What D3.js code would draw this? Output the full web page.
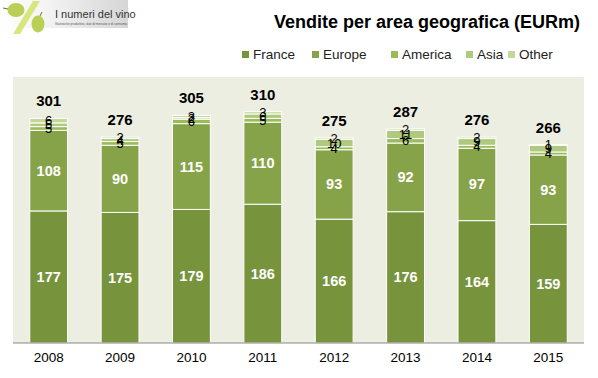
<!DOCTYPE html>
<html><head><meta charset="utf-8">
<script src="https://cdn.jsdelivr.net/npm/d3@7"></script>
<style>body{margin:0;background:#fff}svg{display:block}</style>
</head><body>
<script>
const years = ["2008","2009","2010","2011","2012","2013","2014","2015"];
const seriesNames = ["France","Europe","America","Asia","Other"];
const france  = [177,175,179,186,166,176,164,159];
const europe  = [108, 90,115,110, 93, 92, 97, 93];
const america = [  5,  5,  6,  5,  4,  6,  4,  4];
const asia    = [  5,  4,  2,  6, 10, 11,  9,  9];
const other   = [  6,  2,  3,  3,  2,  2,  2,  1];
const totals  = [301,276,305,310,275,287,276,266];
const colors  = ["#77933C","#87A34A","#9BBB59","#AFC97E","#C4D79B"];

const W=598,H=378;
const svg=d3.select("body").append("svg").attr("width",W).attr("height",H);
const font="'Liberation Sans', Arial, sans-serif";

// logo
const defs=svg.append("defs");
const lg=defs.append("linearGradient").attr("id","lg").attr("x1",0).attr("x2",1);
lg.append("stop").attr("offset",0).attr("stop-color","#ffffff");
lg.append("stop").attr("offset",0.35).attr("stop-color","#f4f4f4");
lg.append("stop").attr("offset",1).attr("stop-color","#d6d6d6");
svg.append("rect").attr("x",0).attr("y",0).attr("width",128).attr("height",28).attr("fill","url(#lg)");
svg.append("path").attr("d","M13,34 L20,34 L40,1 L33,1 Z").attr("fill","#d8e67e");
svg.append("ellipse").attr("cx",16).attr("cy",10).attr("rx",8.5).attr("ry",7).attr("fill","#b9cf55");
svg.append("ellipse").attr("cx",38).attr("cy",24).attr("rx",6.5).attr("ry",8.5).attr("fill","#b9cf55");
svg.append("line").attr("x1",3).attr("y1",8).attr("x2",8).attr("y2",9).attr("stroke","#7a6a3a").attr("stroke-width",1);
svg.append("line").attr("x1",42).attr("y1",12).attr("x2",40).attr("y2",16).attr("stroke","#7a6a3a").attr("stroke-width",1);
svg.append("text").attr("x",55).attr("y",18).attr("font-family",font).attr("font-size",11).attr("fill","#333").text("I numeri del vino");
svg.append("text").attr("x",55).attr("y",25).attr("font-family",font).attr("font-size",3.2).attr("fill","#555").text("Statistiche produttive, dati di mercato e di consumo.");

// title
svg.append("text").attr("x",427).attr("y",28).attr("text-anchor","middle")
  .attr("font-family",font).attr("font-weight","bold").attr("font-size",18).attr("fill","#000")
  .text("Vendite per area geografica (EURm)");

// legend
const legX=[242,312,391,466,508];
seriesNames.forEach((n,i)=>{
  const g=svg.append("g").attr("transform",`translate(${legX[i]},57)`);
  g.append("rect").attr("x",0).attr("y",-6).attr("width",7).attr("height",7).attr("fill",colors[i]);
  g.append("text").attr("x",11).attr("y",1.5).attr("font-family",font).attr("font-size",13.5).attr("fill","#222").text(n);
});

// plot
const pLeft=13,pRight=584,pBase=343,pTop=77;
svg.append("rect").attr("x",pLeft).attr("y",pTop).attr("width",pRight-pLeft).attr("height",pBase-pTop).attr("fill","#EBEEE0");
const x=d3.scaleBand().domain(years).range([pLeft,pRight]).paddingInner(0.47).paddingOuter(0.235);
const y=d3.scaleLinear().domain([0,356.5]).range([pBase,pTop]);

const rows=years.map((yr,i)=>({year:yr,France:france[i],Europe:europe[i],America:america[i],Asia:asia[i],Other:other[i],total:totals[i]}));
const stack=d3.stack().keys(seriesNames)(rows);

stack.forEach((layer,li)=>{
  svg.append("g").selectAll("rect").data(layer).join("rect")
    .attr("x",d=>x(d.data.year)).attr("width",x.bandwidth())
    .attr("y",d=>y(d[1])).attr("height",d=>y(d[0])-y(d[1]))
    .attr("fill",colors[li]).attr("stroke","#fff").attr("stroke-width",1);
});

// labels
stack.forEach((layer,li)=>{
  const big=li<2;
  svg.append("g").selectAll("text").data(layer).join("text")
    .attr("x",d=>x(d.data.year)+x.bandwidth()/2)
    .attr("y",d=>(y(d[0])+y(d[1]))/2+(big?5:4.5))
    .attr("text-anchor","middle").attr("font-family",font)
    .attr("font-size",big?14.5:13).attr("font-weight",big?"bold":"normal")
    .attr("fill",big?"#fff":"#000")
    .text(d=>d[1]-d[0]);
});
svg.append("g").selectAll("text").data(rows).join("text")
  .attr("x",d=>x(d.year)+x.bandwidth()/2).attr("y",(d,i)=>y(stack[4][i][1])-12)
  .attr("text-anchor","middle").attr("font-family",font).attr("font-weight","bold").attr("font-size",15)
  .text(d=>d.total);

// axis
const ax=svg.append("g").attr("transform",`translate(0,${pBase})`).call(d3.axisBottom(x).tickSize(0).tickPadding(9));
ax.select(".domain").attr("stroke","#888").attr("d",`M${pLeft},0H${pRight}`);
ax.selectAll("text").attr("font-family",font).attr("font-size",13.5).attr("fill","#000");
</script>
</body></html>
